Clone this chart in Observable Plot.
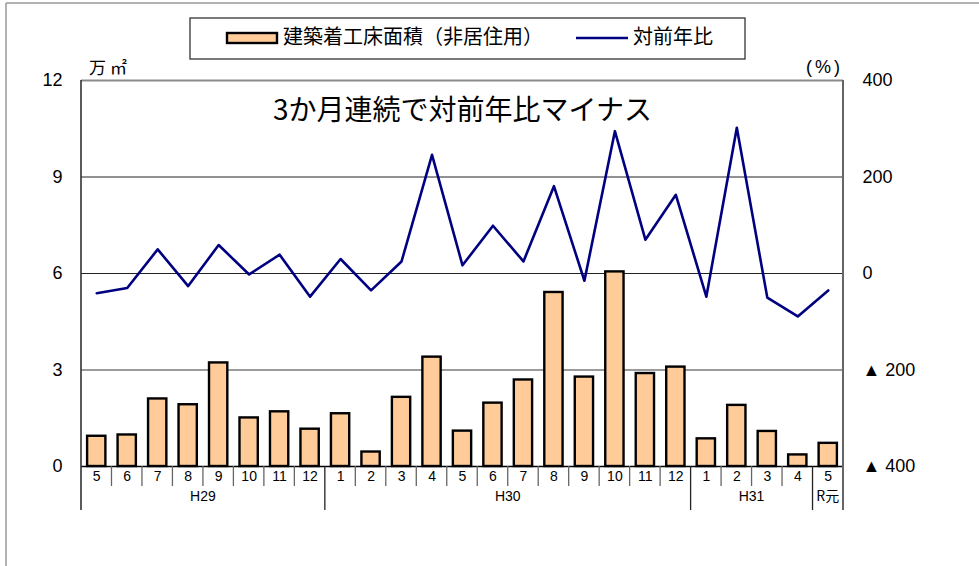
<!DOCTYPE html>
<html><head><meta charset="utf-8">
<script src="https://cdn.jsdelivr.net/npm/d3@7"></script>
<script src="https://cdn.jsdelivr.net/npm/@observablehq/plot@0.6"></script>
<style>body{margin:0;background:#fff;} svg{display:block}</style>
</head><body><div id="chart"></div>
<script>
// ---- data ----
const years  = ["H29","H29","H29","H29","H29","H29","H29","H29",
                "H30","H30","H30","H30","H30","H30","H30","H30","H30","H30","H30","H30",
                "H31","H31","H31","H31","R元"];
const months = [5,6,7,8,9,10,11,12, 1,2,3,4,5,6,7,8,9,10,11,12, 1,2,3,4, 5];
// 建築着工床面積（非居住用） 万㎡
const area = [0.94,0.98,2.10,1.92,3.22,1.51,1.70,1.16,
              1.64,0.45,2.15,3.40,1.10,1.97,2.69,5.41,2.78,6.05,2.89,3.09,
              0.86,1.90,1.09,0.36,0.72];
// 対前年比 %
const yoy = [-41,-30,50,-26,59,-2,39,-48,
             30,-35,25,246,17,99,25,181,-15,295,70,163,
             -48,302,-50,-89,-35];
const leftTicks = [0,3,6,9,12];
const rightTickLabels = ["▲ 400","▲ 200","0","200","400"];
const rightPctRange = 400; // right axis spans -400..400
const legendLabels = ["建築着工床面積（非居住用）","対前年比"];
const annotation = "3か月連続で対前年比マイナス";
const leftUnit = "万㎡";
const rightUnit = "(%)";

// ---- build ----
const keys = years.map((y,i)=>`${y}-${months[i]}-${i}`);
const rows = keys.map((k,i)=>({key:k, area:area[i], yoy:yoy[i], month:months[i], year:years[i]}));
const monthByKey = new Map(rows.map(r=>[r.key,r.month]));
const rightLabelByTick = new Map(leftTicks.map((t,i)=>[t,rightTickLabels[i]]));
const mid = 6, half = 6;
const toLeft = p => mid + p/rightPctRange*half;

const NUM = "'Liberation Sans','DejaVu Sans',sans-serif";
const CJK = "'Noto Sans CJK JP','Noto Sans',sans-serif";

const chart = Plot.plot({
  width: 979, height: 566,
  marginLeft: 81, marginRight: 136, marginTop: 80, marginBottom: 100,
  style: {fontFamily: NUM, background: "white", color: "#000"},
  x: {type: "band", domain: keys, paddingInner: 0.4, paddingOuter: 0.2, round: false, axis: null, label: null},
  y: {domain: [0,12], axis: null, label: null},
  marks: [
    Plot.ruleY([3], {stroke: "#7a7a7a", strokeWidth: 1.6}),
    Plot.ruleY([6,9], {stroke: "#222", strokeWidth: 1}),
    Plot.ruleY([12], {stroke: "#8a8a8a", strokeWidth: 1.8}),
    Plot.barY(rows, {x: "key", y: "area", fill: "#FFCC99", stroke: "#000", strokeWidth: 2.4}),
    Plot.ruleY([0], {stroke: "#000", strokeWidth: 1.6}),
    Plot.lineY(rows, {x: "key", y: d => toLeft(d.yoy), stroke: "#000080", strokeWidth: 2.6}),
    Plot.axisY(leftTicks, {anchor: "left", tickSize: 0, tickPadding: 19, fontSize: 18, fontFamily: NUM, label: null}),
    Plot.axisY(leftTicks, {anchor: "right", tickSize: 0, tickPadding: 19, fontSize: 18, fontFamily: NUM, label: null,
      tickFormat: d => rightLabelByTick.get(d)}),
    Plot.axisX({tickSize: 0, tickPadding: 5, fontSize: 14, fontFamily: NUM, label: null, tickFormat: d => monthByKey.get(d)}),
    Plot.text([annotation], {frameAnchor: "top", lineAnchor: "middle", dy: 31, fontSize: 28, fontFamily: CJK, fill: "#000"})
  ]
});
document.getElementById("chart").appendChild(chart);

// ---- decorations from the library's scales ----
const svg = d3.select(chart);
const xs = chart.scale("x"), ys = chart.scale("y");
const step = xs.step, bw = xs.bandwidth;
const leftOf = k => xs.apply(k) - (step - bw)/2;
const x0 = leftOf(keys[0]);
const xEnd = leftOf(keys[keys.length-1]) + step;
const y0 = ys.apply(0), yTop = ys.apply(12);
const g = svg.append("g").attr("text-anchor","start");

// separators between months
keys.forEach((k,i)=>{
  if (i===0) return;
  const isYear = years[i] !== years[i-1];
  g.append("line").attr("x1",leftOf(k)).attr("x2",leftOf(k))
   .attr("y1",y0).attr("y2", y0 + (isYear ? 44 : 20))
   .attr("stroke", isYear ? "#222" : "#666").attr("stroke-width", 1.3);
});
// left & right axis lines
g.append("line").attr("x1",x0).attr("x2",x0).attr("y1",yTop).attr("y2",y0+44).attr("stroke","#333").attr("stroke-width",1.6);
g.append("line").attr("x1",xEnd).attr("x2",xEnd).attr("y1",yTop).attr("y2",y0+44).attr("stroke","#666").attr("stroke-width",2);
// year labels
const groups = d3.groups(keys.map((k,i)=>({k,y:years[i]})), d=>d.y);
groups.forEach(([yr, arr])=>{
  const a = leftOf(arr[0].k), b = leftOf(arr[arr.length-1].k) + step;
  g.append("text").attr("x",(a+b)/2).attr("y",y0+31).attr("text-anchor","middle")
   .attr("dominant-baseline","middle").attr("font-size",14)
   .attr("font-family", yr==="R元" ? CJK : NUM).text(yr);
});
// units
g.append("text").attr("x",x0+8).attr("y",yTop-6).attr("text-anchor","start").attr("font-size",17).attr("font-family",CJK)
 .attr("letter-spacing",4).text(leftUnit);
g.append("text").attr("x",xEnd).attr("y",yTop-7).attr("text-anchor","end").attr("font-size",18)
 .attr("font-family",NUM).attr("letter-spacing",3).text(rightUnit);

// outer frame
g.append("line").attr("x1",6).attr("x2",979).attr("y1",3).attr("y2",3).attr("stroke","#999").attr("stroke-width",1.5);
g.append("line").attr("x1",6).attr("x2",6).attr("y1",3).attr("y2",566).attr("stroke","#999").attr("stroke-width",1.5);

// legend
const lg = svg.append("g").attr("text-anchor","start");
lg.append("rect").attr("x",190).attr("y",18).attr("width",555).attr("height",41)
  .attr("fill","white").attr("stroke","#333").attr("stroke-width",1.3);
lg.append("rect").attr("x",227).attr("y",33).attr("width",50).attr("height",10)
  .attr("fill","#FFCC99").attr("stroke","#000").attr("stroke-width",2.4);
lg.append("text").attr("x",283).attr("y",38.5).attr("text-anchor","start").attr("dominant-baseline","middle")
  .attr("font-size",20).attr("font-family",CJK).text(legendLabels[0]);
lg.append("line").attr("x1",576).attr("x2",628).attr("y1",38).attr("y2",38)
  .attr("stroke","#000080").attr("stroke-width",2.6);
lg.append("text").attr("x",633).attr("y",38.5).attr("text-anchor","start").attr("dominant-baseline","middle")
  .attr("font-size",20).attr("font-family",CJK).text(legendLabels[1]);
</script>
</body></html>
